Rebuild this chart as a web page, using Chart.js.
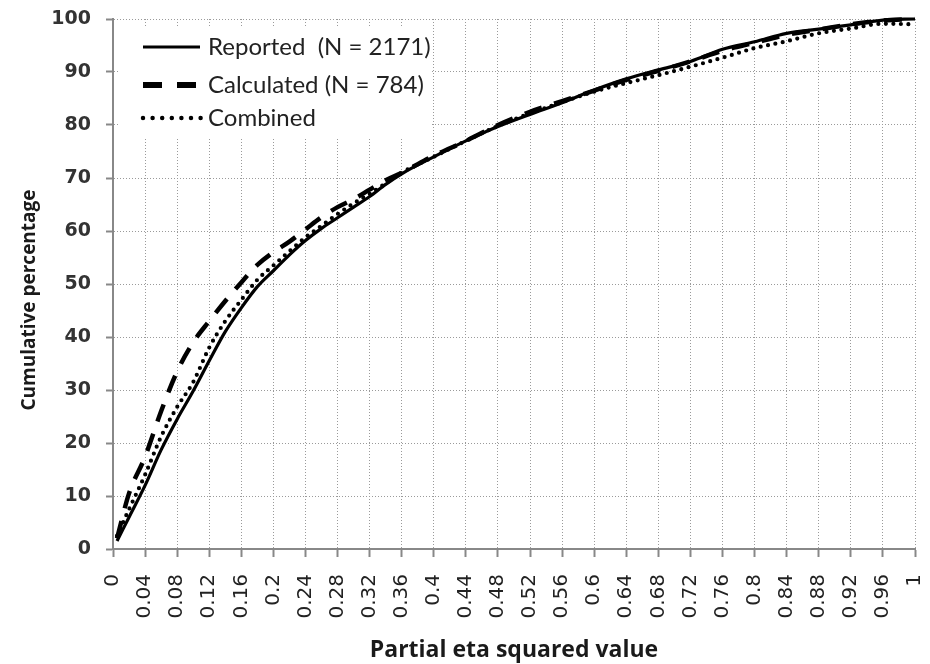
<!DOCTYPE html>
<html>
<head>
<meta charset="utf-8">
<script src="https://cdn.jsdelivr.net/npm/chart.js@4.4.1/dist/chart.umd.min.js"></script>
<style>
  html, body { margin: 0; padding: 0; background: #ffffff; }
  #wrap { width: 930px; height: 664px; }
</style>
</head>
<body>
<div id="wrap"><canvas id="chart" width="930" height="664"></canvas></div>
<script>
// Partial eta squared values at which the cumulative percentages are sampled
const etaValues = [0.005, 0.02, 0.04, 0.06, 0.08, 0.10, 0.12, 0.14, 0.16, 0.18, 0.20, 0.22, 0.24, 0.26, 0.28, 0.30, 0.32, 0.34, 0.36, 0.40, 0.44, 0.48, 0.52, 0.56, 0.60, 0.64, 0.68, 0.72, 0.76, 0.80, 0.84, 0.88, 0.92, 0.96, 1.00];

// Cumulative percentage of effects at or below each value
const reported   = [1.5, 6, 12, 18.7, 24.5, 29.8, 35.5, 41, 45.5, 49.5, 52.5, 55.5, 58.2, 60.5, 62.5, 64.5, 66.5, 68.8, 70.8, 74, 77, 79.7, 82, 84.2, 86.6, 88.7, 90.4, 92, 94.3, 95.7, 97.3, 98.1, 98.9, 99.8, 100];
const calculated = [2, 10.5, 17.4, 26, 33.5, 39, 43, 46.8, 50.3, 53.6, 56, 58, 60.3, 62.6, 64.5, 66, 67.8, 69.6, 71, 74.2, 77, 80, 82.5, 84.5, 86.5, 88.5, 90.2, 92, 94, 95.5, 97, 98, 99, 99.7, 100];
const combined   = [2.5, 7.5, 14, 21.2, 26.8, 31.5, 38, 43, 47, 50.8, 53.5, 56.2, 58.8, 61, 63.2, 65.2, 67, 69, 71, 74, 77, 79.8, 82.2, 84.3, 86.3, 87.9, 89.4, 91, 92.7, 94.5, 95.8, 97.3, 98.2, 99.1, 99];

const seriesLabels = ['Reported  (N = 2171)', 'Calculated (N = 784)', 'Combined'];

const xTitle = 'Partial eta squared value';
const yTitle = 'Cumulative percentage';

function toPoints(ys) {
  return etaValues.map((x, i) => ({ x: x, y: ys[i] }));
}

const LEGEND_FONT = 'Lato, "Open Sans", sans-serif';
const TITLE_FONT = '"Open Sans", Lato, sans-serif';
const TICK_FONT = '"DejaVu Sans", sans-serif';

// White page behind the canvas drawing
const whiteBackground = {
  id: 'whiteBackground',
  beforeDraw(chart) {
    const ctx = chart.ctx;
    ctx.save();
    ctx.fillStyle = '#ffffff';
    ctx.fillRect(0, 0, chart.width, chart.height);
    ctx.restore();
  }
};

// Vertical axis title, set a little below the middle of the axis
const yAxisTitle = {
  id: 'yAxisTitle',
  afterDraw(chart) {
    const ctx = chart.ctx;
    const area = chart.chartArea;
    ctx.save();
    ctx.translate(30, (area.top + area.bottom) / 2 + 16);
    ctx.rotate(-Math.PI / 2);
    ctx.fillStyle = '#1a1a1a';
    ctx.font = 'bold 19px ' + TITLE_FONT;
    ctx.textAlign = 'center';
    ctx.textBaseline = 'middle';
    ctx.fillText(yTitle, 0, 0);
    ctx.restore();
  }
};

// Boxed legend in the upper-left corner of the plot, with longer line samples
const insetLegend = {
  id: 'insetLegend',
  afterDatasetsDraw(chart) {
    const ctx = chart.ctx;
    const area = chart.chartArea;
    const boxX = area.left + 5, boxY = area.top + 8, boxW = 314, boxH = 110;
    ctx.save();
    ctx.fillStyle = '#ffffff';
    ctx.fillRect(boxX, boxY, boxW, boxH);
    const rowsY = [area.top + 28, area.top + 66, area.top + 99];
    const sx1 = area.left + 30, sx2 = area.left + 87;
    chart.data.datasets.forEach((ds, i) => {
      const y = rowsY[i];
      ctx.save();
      ctx.strokeStyle = '#000000';
      ctx.beginPath();
      if (i === 0) {
        ctx.lineWidth = 3;
        ctx.setLineDash([]);
        ctx.lineCap = 'butt';
      } else if (i === 1) {
        ctx.lineWidth = 6;
        ctx.setLineDash([19, 15]);
        ctx.lineCap = 'butt';
      } else {
        ctx.lineWidth = 4.5;
        ctx.setLineDash([0, 9.6]);
        ctx.lineCap = 'round';
      }
      ctx.moveTo(sx1, y);
      ctx.lineTo(sx2 + (i === 2 ? 2 : 0), y);
      ctx.stroke();
      ctx.restore();
      ctx.fillStyle = '#222222';
      ctx.font = '24px ' + LEGEND_FONT;
      ctx.textAlign = 'left';
      ctx.textBaseline = 'middle';
      ctx.fillText(ds.label, area.left + 95, y);
    });
    ctx.restore();
  }
};

// Fixed axis box sizes; label overflow must not push the plot edges inward
function fixBox(size, key) {
  return function (scale) {
    scale[key] = size;
    scale.paddingTop = 0;
    scale.paddingBottom = 0;
    scale.paddingLeft = 0;
    scale.paddingRight = 0;
  };
}

const ctx = document.getElementById('chart').getContext('2d');
new Chart(ctx, {
  type: 'line',
  data: {
    datasets: [
      {
        label: seriesLabels[0],
        data: toPoints(reported),
        borderColor: '#000000',
        borderWidth: 3.2,
        pointRadius: 0,
        cubicInterpolationMode: 'monotone',
        clip: 6
      },
      {
        label: seriesLabels[1],
        data: toPoints(calculated),
        borderColor: '#000000',
        borderWidth: 4.5,
        borderDash: [18, 13],
        borderCapStyle: 'butt',
        pointRadius: 0,
        cubicInterpolationMode: 'monotone',
        clip: 6
      },
      {
        label: seriesLabels[2],
        data: toPoints(combined),
        borderColor: '#000000',
        borderWidth: 4.2,
        borderDash: [0, 7.5],
        borderCapStyle: 'round',
        pointRadius: 0,
        cubicInterpolationMode: 'monotone',
        clip: 6
      }
    ]
  },
  options: {
    responsive: false,
    animation: false,
    events: [],
    layout: { padding: { top: 19, right: 15, left: 0, bottom: 0 } },
    plugins: {
      legend: { display: false },
      tooltip: { enabled: false }
    },
    scales: {
      x: {
        type: 'linear',
        min: 0,
        max: 1,
        afterFit: fixBox(115, 'height'),
        ticks: {
          stepSize: 0.04,
          minRotation: 90,
          maxRotation: 90,
          autoSkip: false,
          padding: 17,
          color: '#222222',
          font: { family: TICK_FONT, size: 20 },
          callback: (v) => String(Number(v.toFixed(2)))
        },
        grid: {
          color: '#9a9a9a',
          lineWidth: 1,
          tickLength: 8,
          tickColor: '#888888',
          tickWidth: 2,
          tickBorderDash: []
        },
        border: { color: '#888888', width: 2, dash: [1, 2] },
        title: {
          display: true,
          text: xTitle,
          color: '#1a1a1a',
          font: { family: TITLE_FONT, size: 23, weight: 'bold' },
          padding: { top: 0, bottom: 0 }
        }
      },
      y: {
        min: 0,
        max: 100,
        afterFit: fixBox(113, 'width'),
        ticks: {
          stepSize: 10,
          padding: 15,
          color: '#333333',
          font: { family: TICK_FONT, size: 19, weight: 'bold' }
        },
        grid: {
          color: '#9a9a9a',
          lineWidth: 1,
          tickLength: 7,
          tickColor: '#888888',
          tickWidth: 2,
          tickBorderDash: []
        },
        border: { color: '#888888', width: 2, dash: [1, 2] },
        title: { display: false }
      }
    }
  },
  plugins: [whiteBackground, insetLegend, yAxisTitle]
});
</script>
</body>
</html>
